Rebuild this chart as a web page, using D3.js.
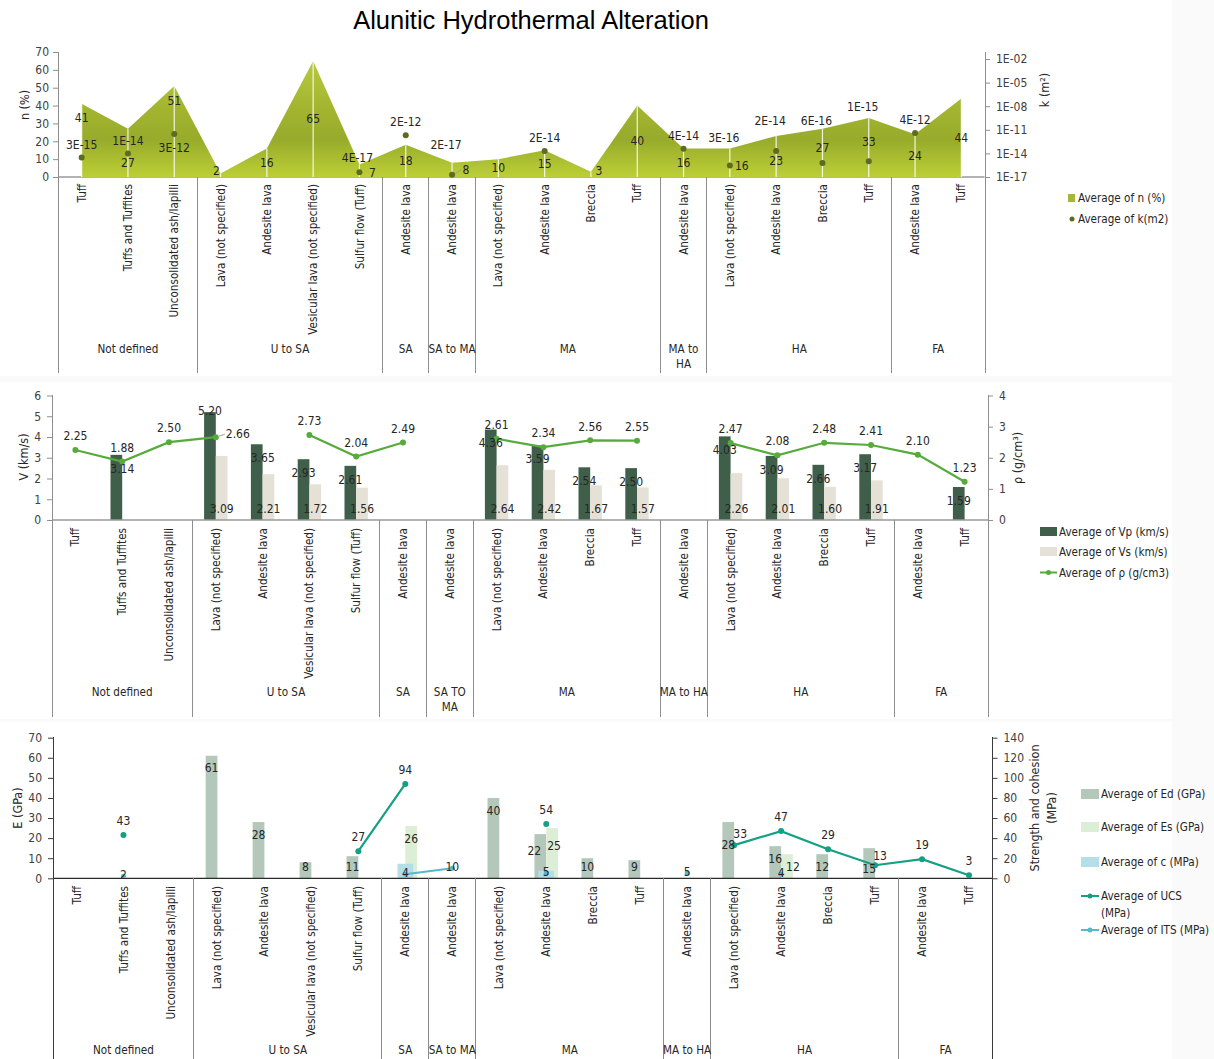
<!DOCTYPE html>
<html>
<head>
<meta charset="utf-8">
<script src="https://cdn.jsdelivr.net/npm/d3@7"></script>
<style>
  body { margin: 0; background: #fafafa; }
  svg text { font-family: "DejaVu Sans Condensed", "Liberation Sans Narrow", sans-serif; fill: #262626; }
  svg text.title { font-family: "Liberation Sans", Arial, sans-serif; fill: #000; }
</style>
</head>
<body>
<svg id="chart" width="1214" height="1059"></svg>
<script>
// ---------- categories ----------
const rockTypes = [
  "Tuff", "Tuffs and Tuffites", "Unconsolidated ash/lapilli",
  "Lava (not specified)", "Andesite lava", "Vesicular lava (not specified)", "Sulfur flow (Tuff)",
  "Andesite lava",
  "Andesite lava",
  "Lava (not specified)", "Andesite lava", "Breccia", "Tuff",
  "Andesite lava",
  "Lava (not specified)", "Andesite lava", "Breccia", "Tuff",
  "Andesite lava", "Tuff"
];
const groupSizes = [3, 4, 1, 1, 4, 1, 4, 2];
const groupLabelsTop = ["Not defined", "U to SA", "SA", "SA to MA", "MA", "MA to\nHA", "HA", "FA"];
const groupLabelsMid = ["Not defined", "U to SA", "SA", "SA TO\nMA", "MA", "MA to HA", "HA", "FA"];
const groupLabelsBottom = ["Not defined", "U to SA", "SA", "SA to MA", "MA", "MA to HA", "HA", "FA"];

// ---------- porosity / permeability ----------
const porosity = [41, 27, 51, 2, 16, 65, 7, 18, 8, 10, 15, 3, 40, 16, 16, 23, 27, 33, 24, 44];
const permeability = [3e-15, 1e-14, 3e-12, null, null, null, 4e-17, 2e-12, 2e-17, null,
                      2e-14, null, null, 4e-14, 3e-16, 2e-14, 6e-16, 1e-15, 4e-12, null];
const nTicks = [0, 10, 20, 30, 40, 50, 60, 70];
const kTicks = [1e-17, 1e-14, 1e-11, 1e-8, 1e-5, 1e-2];

// ---------- velocities / density ----------
const vp = [null, 3.14, null, 5.20, 3.65, 2.93, 2.61, null, null, 4.36, 3.59, 2.54, 2.50, null, 4.03, 3.09, 2.66, 3.17, null, 1.59];
const vs = [null, null, null, 3.09, 2.21, 1.72, 1.56, null, null, 2.64, 2.42, 1.67, 1.57, null, 2.26, 2.01, 1.60, 1.91, null, null];
const density = [2.25, 1.88, 2.50, 2.66, null, 2.73, 2.04, 2.49, null, 2.61, 2.34, 2.56, 2.55, null, 2.47, 2.08, 2.48, 2.41, 2.10, 1.23];
const vTicks = [0, 1, 2, 3, 4, 5, 6];
const rhoTicks = [0, 1, 2, 3, 4];

// ---------- moduli / strength ----------
const ed = [null, null, null, 61, 28, 8, 11, null, null, 40, 22, 10, 9, null, 28, 16, 12, 15, null, null];
const es = [null, null, null, null, null, null, null, 26, null, null, 25, null, null, null, null, 12, null, null, null, null];
const cohesion = [null, null, null, null, null, null, null, 14.5, null, null, 7.5, null, null, null, null, null, null, null, null, null];
const ucs = [null, 43, null, null, null, null, 27, 94, null, null, 54, null, null, null, 33, 47, 29, 13, 19, 3];
const its = [null, 2, null, null, null, null, null, 4, 10, null, 5, null, null, 5, null, 4, null, null, null, null];
const eTicks = [0, 10, 20, 30, 40, 50, 60, 70];
const sTicks = [0, 20, 40, 60, 80, 100, 120, 140];

// label nudges [dx, dy, leader]
const nLabelNudge = {0: [0, -23], 1: [0, 10], 2: [0, -31], 3: [-4, -4], 6: [13, 2], 8: [14, 0, true], 11: [8, -4], 14: [12, 3], 15: [0, 4], 16: [0, -5], 17: [0, -6]};
const kLabelNudge = {2: [0, 27], 6: [-2, -1], 8: [-6, -17], 14: [-6, -15], 15: [-6, -17], 16: [-6, -29], 17: [-6, -41]};
const vpLabelNudge = {1: [6, 0], 3: [0, -15], 4: [6, 0]};
const rhoLabelNudge = {3: [22, 11, true]};
const edLabelNudge = {10: [-6, 4], 14: [0, 10], 17: [0, 8]};
const esLabelNudge = {10: [2, 5], 15: [6, 0]};
const ucsLabelNudge = {14: [6, 3], 17: [5, 5]};

const FS = 11.6;      // category / legend text
const FS_LABEL = 12;  // data labels
const FS_TICK = 12;

const COL = {
  kDot: "#5b6b22", vp: "#405f4b", vs: "#e6e1d6", rho: "#56ab3b",
  ed: "#b3c7ba", es: "#ddeed6", c: "#b4dfe8", ucs: "#15a083", its: "#55b9cb",
  axis: "#8e8e8e", axisDark: "#3a3a3a"
};

const svg = d3.select("#chart");
const defs = svg.append("defs");
const grad = defs.append("linearGradient").attr("id", "nFill")
  .attr("gradientUnits", "userSpaceOnUse").attr("x1", 0).attr("x2", 0).attr("y1", 52).attr("y2", 177);
[[0, "#bccb44"], [0.45, "#a3b52f"], [0.7, "#98ab2b"], [1, "#bccf36"]].forEach(([o, c]) =>
  grad.append("stop").attr("offset", o).attr("stop-color", c));

// panel backgrounds
[[0, 0, 1172, 376], [0, 382, 1172, 337], [0, 722, 1172, 337]].forEach(([x, y, w, h]) =>
  svg.append("rect").attr("x", x).attr("y", y).attr("width", w).attr("height", h).attr("fill", "#fff"));

svg.append("text").attr("class", "title").attr("x", 531).attr("y", 29).attr("text-anchor", "middle")
  .attr("font-size", 25.5).text("Alunitic Hydrothermal Alteration");

const nudge = (obj, i) => obj[i] || [0, 0];
const fmtE = d => {
  const [m, e] = d.toExponential(0).split("e");
  const n = +e;
  return m + "E" + (n < 0 ? "-" : "+") + String(Math.abs(n)).padStart(2, "0");
};
const idx = d3.range(rockTypes.length);

function styleAxis(sel, color) {
  sel.select(".domain").remove();
  sel.selectAll(".tick line").attr("stroke", color);
  sel.selectAll(".tick text").attr("font-size", FS_TICK).style("fill", "#404040").attr("font-family", null);
}

function vline(g, x, y1, y2, color) {
  g.append("line").attr("x1", x).attr("x2", x).attr("y1", y1).attr("y2", y2)
    .attr("stroke", color).attr("stroke-width", 1).attr("shape-rendering", "crispEdges");
}

function categoryBox(g, x, yBase, yBottom, labelTop, groupY, groupLabels, lineColor, baseColor) {
  const bw = x.bandwidth();
  const x0 = x.range()[0], x1 = x.range()[1];
  g.append("line").attr("x1", x0).attr("x2", x1).attr("y1", yBase).attr("y2", yBase)
    .attr("stroke", baseColor).attr("stroke-width", 1.3);
  g.selectAll(null).data(idx).join("text")
    .attr("transform", i => `translate(${x(i) + bw / 2},${labelTop}) rotate(-90)`)
    .attr("text-anchor", "end").attr("dy", "0.35em").attr("font-size", FS)
    .text(i => rockTypes[i]);
  let acc = 0;
  const bounds = [0];
  groupSizes.forEach(s => { acc += s; bounds.push(acc); });
  bounds.slice(1, -1).forEach(b => vline(g, x0 + b * bw, yBase, yBottom, lineColor));
  groupSizes.forEach((s, k) => {
    const cx = x0 + (bounds[k] + s / 2) * bw;
    const lines = groupLabels[k].split("\n");
    lines.forEach((t, j) => g.append("text").attr("x", cx).attr("y", groupY + j * 15)
      .attr("text-anchor", "middle").attr("dy", "0.35em").attr("font-size", FS).text(t));
  });
}

function label(g, x, y, text) {
  g.append("text").attr("x", x).attr("y", y).attr("text-anchor", "middle").attr("dy", "0.35em")
    .attr("font-size", FS_LABEL).text(text);
}

function rotLabel(g, x, y, lines) {
  const t = g.append("text").attr("transform", `translate(${x},${y}) rotate(-90)`)
    .attr("text-anchor", "middle").attr("font-size", 12.5);
  lines.forEach((l, j) => t.append("tspan").attr("x", 0).attr("dy", j === 0 ? "0.35em" : "1.3em").text(l));
}

function legendText(g, x, y, text) {
  g.append("text").attr("x", x).attr("y", y).attr("dy", "0.35em").attr("font-size", FS).text(text);
}

// =============== Panel 1: porosity & permeability ===============
{
  const g = svg.append("g");
  const x = d3.scaleBand().domain(idx).range([58.5, 984.5]);
  const bw = x.bandwidth();
  const cx = i => x(i) + bw / 2;
  const yN = d3.scaleLinear().domain([0, 70]).range([177, 52]);
  const yK = d3.scaleLog().domain([1e-17, 1e-2]).range([177, 59]);

  categoryBox(g, x, 177, 373, 184, 349, groupLabelsTop, COL.axis, "#9a9a9a");
  vline(g, 58, 52, 373, COL.axis);
  vline(g, 985, 52, 373, COL.axis);

  const ax = g.append("g").attr("transform", "translate(58,0)")
    .call(d3.axisLeft(yN).tickValues(nTicks).tickSize(5).tickPadding(4));
  styleAxis(ax, COL.axis);
  const axR = g.append("g").attr("transform", "translate(985,0)")
    .call(d3.axisRight(yK).tickValues(kTicks).tickFormat(fmtE).tickSize(5).tickPadding(6));
  styleAxis(axR, COL.axis);

  rotLabel(g, 25, 105, ["n (%)"]);
  rotLabel(g, 1045, 90, ["k (m²)"]);

  const area = d3.area().x(cx).y0(yN(0)).y1(i => yN(porosity[i]));
  g.append("path").datum(idx).attr("d", area).attr("fill", "url(#nFill)");
  g.selectAll(null).data(idx).join("line")
    .attr("x1", cx).attr("x2", cx).attr("y1", i => yN(porosity[i])).attr("y2", yN(0))
    .attr("stroke", "#fff").attr("stroke-opacity", 0.85).attr("stroke-width", 1.2);

  const kIdx = idx.filter(i => permeability[i] != null);
  g.selectAll(null).data(kIdx).join("circle")
    .attr("cx", cx).attr("cy", i => yK(permeability[i])).attr("r", 3).attr("fill", COL.kDot);

  idx.forEach(i => {
    const [dx, dy, lead] = nudge(nLabelNudge, i);
    const lx = cx(i) + dx, ly = yN(porosity[i] / 2) + dy;
    if (lead && permeability[i] != null) {
      g.append("line").attr("x1", cx(i) + 3).attr("y1", yK(permeability[i]) - 1)
        .attr("x2", lx - 5).attr("y2", ly).attr("stroke", "#a0a0a0").attr("stroke-width", 1);
    }
    label(g, lx, ly, porosity[i]);
  });
  kIdx.forEach(i => {
    const [dx, dy] = nudge(kLabelNudge, i);
    label(g, cx(i) + dx, yK(permeability[i]) - 13 + dy, fmtE(permeability[i]));
  });

  // legend
  g.append("rect").attr("x", 1068).attr("y", 194).attr("width", 7).attr("height", 8).attr("fill", "#a6b830");
  legendText(g, 1078, 198, "Average of n (%)");
  g.append("circle").attr("cx", 1072).attr("cy", 219).attr("r", 2.5).attr("fill", COL.kDot);
  legendText(g, 1078, 219, "Average of k(m2)");
}

// =============== Panel 2: velocities & density ===============
{
  const g = svg.append("g");
  const x = d3.scaleBand().domain(idx).range([52, 988]);
  const bw = x.bandwidth();
  const cx = i => x(i) + bw / 2;
  const barW = bw / 4;
  const sub = d3.scaleBand().domain(["vp", "vs"]).range([-barW, barW]);
  const yV = d3.scaleLinear().domain([0, 6]).range([520, 395.5]);
  const yR = d3.scaleLinear().domain([0, 4]).range([520, 395.5]);

  const ax = g.append("g").attr("transform", "translate(52,0)")
    .call(d3.axisLeft(yV).tickValues(vTicks).tickFormat(d3.format("d")).tickSize(5).tickPadding(6));
  styleAxis(ax, COL.axis);
  const axR = g.append("g").attr("transform", "translate(988,0)")
    .call(d3.axisRight(yR).tickValues(rhoTicks).tickFormat(d3.format("d")).tickSize(5).tickPadding(6));
  styleAxis(axR, COL.axis);

  rotLabel(g, 24, 457, ["V (km/s)"]);
  rotLabel(g, 1018, 458, ["ρ (g/cm³)"]);

  const vpIdx = idx.filter(i => vp[i] != null);
  const vsIdx = idx.filter(i => vs[i] != null);
  g.selectAll(null).data(vpIdx).join("rect")
    .attr("x", i => cx(i) + sub("vp")).attr("width", sub.bandwidth())
    .attr("y", i => yV(vp[i])).attr("height", i => yV(0) - yV(vp[i])).attr("fill", COL.vp);
  g.selectAll(null).data(vsIdx).join("rect")
    .attr("x", i => cx(i) + sub("vs")).attr("width", sub.bandwidth())
    .attr("y", i => yV(vs[i])).attr("height", i => yV(0) - yV(vs[i])).attr("fill", COL.vs);

  categoryBox(g, x, 520, 717, 528, 692, groupLabelsMid, COL.axis, "#9a9a9a");
  vline(g, 52, 395, 717, COL.axis);
  vline(g, 988, 395, 717, COL.axis);

  const line = d3.line().defined(i => density[i] != null).x(cx).y(i => yR(density[i]));
  g.append("path").datum(idx).attr("d", line).attr("fill", "none")
    .attr("stroke", COL.rho).attr("stroke-width", 2.2);
  const rIdx = idx.filter(i => density[i] != null);
  g.selectAll(null).data(rIdx).join("circle")
    .attr("cx", cx).attr("cy", i => yR(density[i])).attr("r", 3).attr("fill", COL.rho);

  vpIdx.forEach(i => {
    const [dx, dy] = nudge(vpLabelNudge, i);
    label(g, cx(i) + sub("vp") + barW / 2 + dx, yV(vp[i]) + 13.5 + dy, vp[i].toFixed(2));
  });
  vsIdx.forEach(i => label(g, cx(i) + sub("vs") + barW / 2, 508.5, vs[i].toFixed(2)));
  rIdx.forEach(i => {
    const [dx, dy, lead] = nudge(rhoLabelNudge, i);
    const lx = cx(i) + dx, ly = yR(density[i]) - 14 + dy;
    if (lead) {
      g.append("line").attr("x1", cx(i) + 3).attr("y1", yR(density[i]) - 1)
        .attr("x2", lx - 13).attr("y2", ly).attr("stroke", "#a0a0a0").attr("stroke-width", 1);
    }
    label(g, lx, ly, density[i].toFixed(2));
  });

  // legend
  g.append("rect").attr("x", 1040).attr("y", 527).attr("width", 17).attr("height", 9).attr("fill", COL.vp);
  legendText(g, 1059, 531.5, "Average of Vp (km/s)");
  g.append("rect").attr("x", 1040).attr("y", 547).attr("width", 17).attr("height", 9).attr("fill", COL.vs);
  legendText(g, 1059, 551.5, "Average of Vs (km/s)");
  g.append("line").attr("x1", 1040).attr("x2", 1057).attr("y1", 572.5).attr("y2", 572.5).attr("stroke", COL.rho).attr("stroke-width", 2);
  g.append("circle").attr("cx", 1048.5).attr("cy", 572.5).attr("r", 2.5).attr("fill", COL.rho);
  legendText(g, 1059, 572.5, "Average of ρ (g/cm3)");
}

// =============== Panel 3: moduli & strength ===============
{
  const g = svg.append("g");
  const x = d3.scaleBand().domain(idx).range([53, 992.5]);
  const bw = x.bandwidth();
  const cx = i => x(i) + bw / 2;
  const barW = bw / 4;
  const sub = d3.scaleBand().domain(["ed", "es"]).range([-barW, barW]);
  const cW = bw / 3;
  const yE = d3.scaleLinear().domain([0, 70]).range([878.3, 737.7]);
  const yS = d3.scaleLinear().domain([0, 140]).range([878.3, 737.7]);

  const ax = g.append("g").attr("transform", "translate(53,0)")
    .call(d3.axisLeft(yE).tickValues(eTicks).tickSize(5).tickPadding(6));
  styleAxis(ax, COL.axisDark);
  const axR = g.append("g").attr("transform", "translate(992.5,0)")
    .call(d3.axisRight(yS).tickValues(sTicks).tickSize(5).tickPadding(6));
  styleAxis(axR, COL.axisDark);

  rotLabel(g, 18, 808, ["E (GPa)"]);
  rotLabel(g, 1035, 808, ["Strength and cohesion", "(MPa)"]);

  const edIdx = idx.filter(i => ed[i] != null);
  const esIdx = idx.filter(i => es[i] != null);
  const cIdx = idx.filter(i => cohesion[i] != null);
  g.selectAll(null).data(edIdx).join("rect")
    .attr("x", i => cx(i) + sub("ed")).attr("width", sub.bandwidth())
    .attr("y", i => yE(ed[i])).attr("height", i => yE(0) - yE(ed[i])).attr("fill", COL.ed);
  g.selectAll(null).data(esIdx).join("rect")
    .attr("x", i => cx(i) + sub("es")).attr("width", sub.bandwidth())
    .attr("y", i => yE(es[i])).attr("height", i => yE(0) - yE(es[i])).attr("fill", COL.es);
  g.selectAll(null).data(cIdx).join("rect")
    .attr("x", i => cx(i) - cW / 2).attr("width", cW)
    .attr("y", i => yS(cohesion[i])).attr("height", i => yS(0) - yS(cohesion[i])).attr("fill", COL.c);

  categoryBox(g, x, 878.3, 1059, 886, 1050, groupLabelsBottom, "#8a8a8a", "#2a2a2a");
  vline(g, 53, 737, 1059, COL.axisDark);
  vline(g, 992.5, 737, 1059, COL.axisDark);

  const ucsLine = d3.line().defined(i => ucs[i] != null).x(cx).y(i => yS(ucs[i]));
  g.append("path").datum(idx).attr("d", ucsLine).attr("fill", "none").attr("stroke", COL.ucs).attr("stroke-width", 2.2);
  const itsLine = d3.line().defined(i => its[i] != null).x(cx).y(i => yS(its[i]));
  g.append("path").datum(idx).attr("d", itsLine).attr("fill", "none").attr("stroke", COL.its).attr("stroke-width", 2.2);
  const uIdx = idx.filter(i => ucs[i] != null);
  const tIdx = idx.filter(i => its[i] != null);
  g.selectAll(null).data(uIdx).join("circle")
    .attr("cx", cx).attr("cy", i => yS(ucs[i])).attr("r", 3).attr("fill", COL.ucs);
  g.selectAll(null).data(tIdx).join("circle")
    .attr("cx", cx).attr("cy", i => yS(its[i])).attr("r", 2.5).attr("fill", COL.its);

  const barLabelY = v => Math.min(yE(v) + 12.5, yE(0) - 11.5);
  edIdx.forEach(i => {
    const [dx, dy] = nudge(edLabelNudge, i);
    label(g, cx(i) + sub("ed") + barW / 2 + dx, barLabelY(ed[i]) + dy, ed[i]);
  });
  esIdx.forEach(i => {
    const [dx, dy] = nudge(esLabelNudge, i);
    label(g, cx(i) + sub("es") + barW / 2 + dx, barLabelY(es[i]) + dy, es[i]);
  });
  uIdx.forEach(i => {
    const [dx, dy] = nudge(ucsLabelNudge, i);
    label(g, cx(i) + dx, yS(ucs[i]) - 14 + dy, ucs[i]);
  });
  tIdx.forEach(i => label(g, cx(i), yS(its[i]) - 1, its[i]));

  // legend
  const lx = 1081, tx = 1101;
  g.append("rect").attr("x", lx).attr("y", 789).attr("width", 18).attr("height", 10).attr("fill", COL.ed);
  legendText(g, tx, 794, "Average of Ed (GPa)");
  g.append("rect").attr("x", lx).attr("y", 822).attr("width", 18).attr("height", 10).attr("fill", COL.es);
  legendText(g, tx, 827, "Average of Es (GPa)");
  g.append("rect").attr("x", lx).attr("y", 857).attr("width", 18).attr("height", 10).attr("fill", COL.c);
  legendText(g, tx, 862, "Average of c (MPa)");
  g.append("line").attr("x1", lx).attr("x2", lx + 18).attr("y1", 896).attr("y2", 896).attr("stroke", COL.ucs).attr("stroke-width", 2);
  g.append("circle").attr("cx", lx + 9).attr("cy", 896).attr("r", 2.5).attr("fill", COL.ucs);
  legendText(g, tx, 896, "Average of UCS");
  legendText(g, tx, 913, "(MPa)");
  g.append("line").attr("x1", lx).attr("x2", lx + 18).attr("y1", 930).attr("y2", 930).attr("stroke", COL.its).attr("stroke-width", 2);
  g.append("circle").attr("cx", lx + 9).attr("cy", 930).attr("r", 2.5).attr("fill", COL.its);
  legendText(g, tx, 930, "Average of ITS (MPa)");
}
</script>
</body>
</html>
